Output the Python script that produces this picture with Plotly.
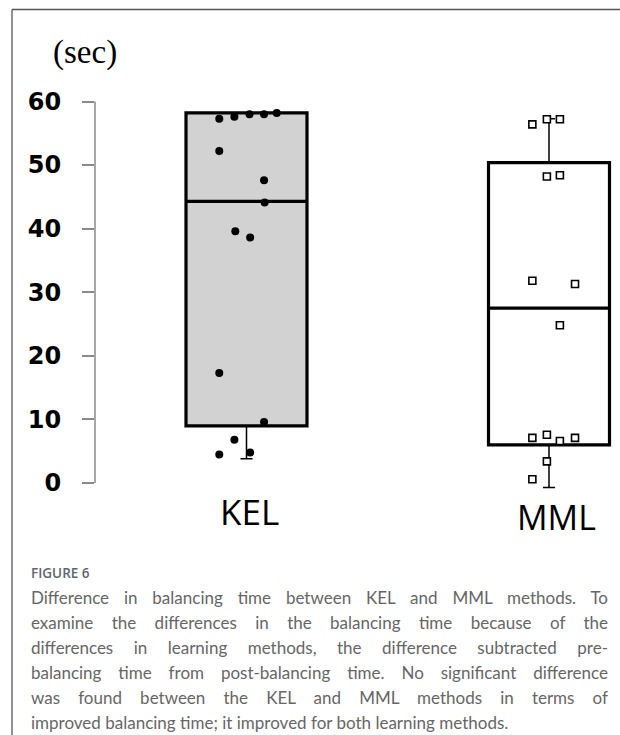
import json
import plotly.graph_objects as go

# ---------------- data ----------------
categories = ["KEL", "MML"]
cat_pos = [0, 1]

# box statistics (sec)
q1 = [9.0, 6.0]
median = [44.3, 27.5]
q3 = [58.2, 50.4]
lower_whisker = [3.8, -0.7]
upper_whisker = [58.2, 57.3]

# individual observations (value, horizontal jitter)
kel_values = [57.3, 57.6, 58.0, 58.0, 58.2, 52.2, 47.6, 44.1, 39.6, 38.6,
              17.3, 9.6, 6.8, 4.5, 4.8]
kel_jitter = [-0.09, -0.04, 0.01, 0.058, 0.10, -0.09, 0.058, 0.06, -0.037, 0.012,
              -0.09, 0.058, -0.04, -0.09, 0.012]
mml_values = [56.4, 57.2, 57.2, 48.2, 48.4, 31.8, 31.3, 24.8, 7.1, 7.6, 6.6, 7.1,
              3.4, 0.6]
mml_jitter = [-0.055, -0.007, 0.036, -0.007, 0.036, -0.055, 0.086, 0.036, -0.055,
              -0.007, 0.036, 0.086, -0.007, -0.055]

y_ticks = [0, 10, 20, 30, 40, 50, 60]
y_unit = "(sec)"

caption_title = "FIGURE 6"
caption_lines = [
    "Difference in balancing time between KEL and MML methods. To",
    "examine the differences in the balancing time because of the",
    "differences in learning methods, the difference subtracted pre-",
    "balancing time from post-balancing time. No significant difference",
    "was found between the KEL and MML methods in terms of",
    "improved balancing time; it improved for both learning methods.",
]

# ---------------- layout geometry ----------------
W, H = 620, 735
ML, MR, MT, MB = 95, 0, 89, 239
PW, PH = W - ML - MR, H - MT - MB


def px(x):
    return (x - ML) / PW


def py(y):
    return (H - MB - y) / PH


box_fill = ["#d2d2d2", "#ffffff"]

fig = go.Figure()

# thin whiskers (full box drawn thin underneath)
for i in range(2):
    fig.add_trace(go.Box(
        x=[cat_pos[i]], q1=[q1[i]], median=[median[i]], q3=[q3[i]],
        lowerfence=[lower_whisker[i]], upperfence=[upper_whisker[i]],
        width=0.4, whiskerwidth=0.1, boxpoints=False,
        line=dict(color="black", width=1.5), fillcolor="rgba(0,0,0,0)",
        showlegend=False, hoverinfo="skip"))

# thick boxes on top
for i in range(2):
    fig.add_trace(go.Box(
        x=[cat_pos[i]], q1=[q1[i]], median=[median[i]], q3=[q3[i]],
        lowerfence=[q1[i]], upperfence=[q3[i]],
        width=0.4, whiskerwidth=0, boxpoints=False,
        line=dict(color="black", width=3.2), fillcolor=box_fill[i],
        showlegend=False))

fig.add_trace(go.Scatter(
    x=[cat_pos[0] + j for j in kel_jitter], y=kel_values, mode="markers",
    marker=dict(symbol="circle", size=8, color="black"), showlegend=False))
fig.add_trace(go.Scatter(
    x=[cat_pos[1] + j for j in mml_jitter], y=mml_values, mode="markers",
    marker=dict(symbol="square", size=7, color="white",
                line=dict(color="black", width=1.6)), showlegend=False))

ppu = (483 - 101.5) / 60.0
y_top = 60 + (101.5 - MT) / ppu
y_bot = -((H - MB) - 483) / ppu
xppu = 549 - 246.5
x_left = -(246.5 - ML) / xppu
x_right = (W - MR - 246.5) / xppu

fig.update_layout(
    width=W, height=H, autosize=False,
    margin=dict(l=ML, r=MR, t=MT, b=MB, pad=0),
    paper_bgcolor="white", plot_bgcolor="white",
    boxmode="overlay",
    xaxis=dict(range=[x_left, x_right], visible=False),
    yaxis=dict(range=[y_bot, y_top], tickvals=y_ticks, showgrid=False,
               zeroline=False, showline=False, ticks="outside", ticklen=12,
               tickwidth=1.5, tickcolor="#8a8a8a", ticklabelstandoff=16,
               tickfont=dict(family="DejaVu Sans", size=24, color="black",
                             weight=700)),
)

shapes = [
    # y axis line from 0 to 60
    dict(type="line", xref="paper", yref="y", x0=0, x1=0, y0=y_ticks[0],
         y1=y_ticks[-1], line=dict(color="#8a8a8a", width=1.5)),
    # figure frame: left and top
    dict(type="line", xref="paper", yref="paper", x0=px(12), x1=px(12),
         y0=py(9.5), y1=py(H + 2), line=dict(color="#555555", width=1.3)),
    dict(type="line", xref="paper", yref="paper", x0=px(12), x1=px(W + 2),
         y0=py(9.5), y1=py(9.5), line=dict(color="#555555", width=1.3)),
]
fig.update_layout(shapes=shapes)

ann = []
ann.append(dict(text=y_unit, xref="paper", yref="paper", x=px(84.5), y=py(52),
                xanchor="center", yanchor="middle", showarrow=False,
                font=dict(family="Liberation Serif", size=33, color="black")))
ann.append(dict(text=categories[0], xref="paper", yref="paper", x=px(249.7),
                y=py(511.5), xanchor="center", yanchor="middle", showarrow=False,
                font=dict(family="Open Sans", size=35, color="black")))
ann.append(dict(text=categories[1], xref="paper", yref="paper", x=px(556.5),
                y=py(516.5), xanchor="center", yanchor="middle", showarrow=False,
                font=dict(family="Open Sans", size=34, color="black")))
ann.append(dict(text=caption_title, xref="paper", yref="paper", x=px(29),
                y=py(573), xanchor="left", yanchor="middle", showarrow=False,
                font=dict(family="Open Sans", size=13.5, color="#5b6670",
                          weight=600)))
for k, line in enumerate(caption_lines):
    ann.append(dict(text=line, xref="paper", yref="paper", x=px(29),
                    y=py(597 + 25 * k), xanchor="left", yanchor="middle",
                    showarrow=False,
                    font=dict(family="Lato", size=17, color="#666666")))
fig.update_layout(annotations=ann)

# justify all caption lines except the last one to the caption width
justify_lines = json.dumps(caption_lines[:-1])
post = (
    "document.body.style.margin='0';document.body.style.overflow='hidden';"
    "var J=" + justify_lines + ";var TW=577;"
    "document.querySelectorAll('text.annotation-text').forEach(function(t){"
    "var s=t.textContent;if(J.indexOf(s)<0)return;"
    "var n=(s.match(/ /g)||[]).length;if(!n)return;"
    "var L=t.getComputedTextLength();var ws=(TW-L)/n;if(ws<=0)return;"
    "var x=parseFloat(t.getAttribute('x'));"
    "t.setAttribute('text-anchor','start');t.setAttribute('x',x-L/2);"
    "t.style.wordSpacing=ws+'px';"
    "});"
)

fig.write_html("out.html", config={"displayModeBar": False}, post_script=post)
